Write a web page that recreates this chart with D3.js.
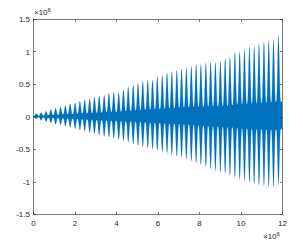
<!DOCTYPE html>
<html>
  <head>
    <meta charset="utf-8">
    <title>Signal</title>
    <style>
      body{
        margin: 0;
        background-color: #FFF;
      }
      svg{
        display: block;
      }
      text{
        font-family: "Liberation Sans", Arial, sans-serif;
        font-size: 8px;
        fill: #262626;
      }
    </style>
  </head>

  <body>
  </body>

  <script src="https://cdn.jsdelivr.net/npm/d3@7"></script>
  <script>
const width = 303;
const height = 242;

// lobe centres (x, in units of 1e6)
const lobeX = [0.16, 0.39, 0.63, 0.86, 1.09, 1.33, 1.56, 1.79, 2.03, 2.26, 2.49, 2.73, 2.96,
  3.19, 3.43, 3.66, 3.89, 4.13, 4.36, 4.59, 4.83, 5.06, 5.29, 5.53, 5.76, 5.99,
  6.23, 6.46, 6.69, 6.93, 7.16, 7.39, 7.63, 7.86, 8.09, 8.33, 8.56, 8.79,
  9.03, 9.26, 9.49, 9.73, 9.96, 10.19, 10.43, 10.66, 10.89, 11.13, 11.36, 11.59, 11.83];

// peak of each lobe (units of 1e6)
const lobeTop = [0.05, 0.06, 0.08, 0.11, 0.13, 0.15, 0.17, 0.20, 0.21, 0.24, 0.26, 0.28, 0.30,
  0.32, 0.33, 0.36, 0.38, 0.37, 0.42, 0.46, 0.49, 0.52, 0.55, 0.57, 0.57, 0.62,
  0.64, 0.68, 0.70, 0.72, 0.74, 0.75, 0.78, 0.81, 0.81, 0.83, 0.85, 0.84,
  0.86, 0.90, 0.92, 1.00, 1.01, 1.05, 1.08, 1.09, 1.13, 1.16, 1.18, 1.19, 1.26];

const lobeBottom = [-0.04, -0.06, -0.08, -0.10, -0.12, -0.13, -0.15, -0.17, -0.19, -0.21, -0.23, -0.25, -0.27,
  -0.29, -0.31, -0.32, -0.34, -0.36, -0.38, -0.40, -0.43, -0.45, -0.47, -0.49, -0.51, -0.53,
  -0.55, -0.57, -0.60, -0.62, -0.64, -0.66, -0.69, -0.72, -0.75, -0.78, -0.81, -0.84,
  -0.87, -0.89, -0.92, -0.95, -0.98, -1.01, -1.03, -1.05, -1.07, -1.08, -1.09, -1.10, -1.06];

const xTicks = [0, 2, 4, 6, 8, 10, 12];
const yTicks = [-1.5, -1, -0.5, 0, 0.5, 1, 1.5];

const mLeft = 33, mRight = 282, mTop = 19, mBottom = 214;
const blue = '#0072BD';
const axisColor = '#262626';
const halfWidth = 0.117; // half spacing of lobes
const coreRatio = 0.18;

const x = d3.scaleLinear().domain([0, 12]).range([mLeft, mRight]);
const y = d3.scaleLinear().domain([-1.5, 1.5]).range([mBottom, mTop]);

const svg = d3.select('body')
  .append('svg')
  .attr('width', width)
  .attr('height', height);

const lobes = lobeX.map((c, i) => ({ c, hi: lobeTop[i], lo: lobeBottom[i] }));

const plot = svg.append('g');

// solid core band between lobes
const core = [{ c: 0, hi: 0.005, lo: -0.005 }].concat(lobes).concat([{ c: 12, hi: 1.26, lo: -1.08 }]);
plot.append('path')
  .datum(core)
  .attr('fill', blue)
  .attr('d', d3.area()
    .x((d) => x(d.c))
    .y0((d) => y(d.lo * coreRatio))
    .y1((d) => y(d.hi * coreRatio)));

// template positions inside one lobe
const steps = d3.range(-1, 1.001, 0.125);

function lobePath(d, power) {
  const pts = steps.map((t) => {
    const f = Math.pow(Math.cos(Math.PI * t / 2), power);
    const k = coreRatio + (1 - coreRatio) * f;
    return { px: d.c + t * halfWidth, hi: d.hi * k, lo: d.lo * k };
  });
  return d3.area()
    .x((p) => x(Math.min(p.px, 12)))
    .y0((p) => y(p.lo))
    .y1((p) => y(p.hi))(pts);
}

plot.selectAll('path.halo')
  .data(lobes)
  .join('path')
  .attr('class', 'halo')
  .attr('fill', blue)
  .attr('fill-opacity', 0.3)
  .attr('d', (d) => lobePath(d, 1.6));

plot.selectAll('path.lobe')
  .data(lobes)
  .join('path')
  .attr('class', 'lobe')
  .attr('fill', blue)
  .attr('d', (d) => lobePath(d, 3.5));

// thin zero line at the start
plot.append('line')
  .attr('x1', x(0)).attr('x2', x(0.2))
  .attr('y1', y(0)).attr('y2', y(0))
  .attr('stroke', blue)
  .attr('stroke-width', 1);

// box and ticks
const axes = svg.append('g')
  .attr('stroke', axisColor)
  .attr('stroke-width', 0.6)
  .attr('fill', 'none');

axes.append('rect')
  .attr('x', mLeft + 0.5)
  .attr('y', mTop + 0.5)
  .attr('width', mRight - mLeft)
  .attr('height', mBottom - mTop);

const tickLen = 2.5;
xTicks.forEach((t) => {
  const px = Math.round(x(t)) + 0.5;
  axes.append('line').attr('x1', px).attr('x2', px).attr('y1', mBottom + 0.5).attr('y2', mBottom + 0.5 - tickLen);
  axes.append('line').attr('x1', px).attr('x2', px).attr('y1', mTop + 0.5).attr('y2', mTop + 0.5 + tickLen);
});
yTicks.forEach((t) => {
  const py = Math.round(y(t)) + 0.5;
  axes.append('line').attr('x1', mLeft + 0.5).attr('x2', mLeft + 0.5 + tickLen).attr('y1', py).attr('y2', py);
  axes.append('line').attr('x1', mRight + 0.5).attr('x2', mRight + 0.5 - tickLen).attr('y1', py).attr('y2', py);
});

// labels
svg.append('g')
  .selectAll('text')
  .data(xTicks)
  .join('text')
  .attr('x', (d) => x(d) + 0.5)
  .attr('y', mBottom + 12)
  .attr('text-anchor', 'middle')
  .text((d) => d);

svg.append('g')
  .selectAll('text')
  .data(yTicks)
  .join('text')
  .attr('x', mLeft - 3)
  .attr('y', (d) => y(d) + 3)
  .attr('text-anchor', 'end')
  .text((d) => d);

function exponent(px, py) {
  const t = svg.append('text').attr('x', px).attr('y', py);
  t.append('tspan').text('\u00d710');
  t.append('tspan').attr('dy', -3).style('font-size', '6px').text('6');
}
exponent(mLeft + 1, mTop - 4);
exponent(mRight - 19, mBottom + 25);
  </script>
</html>
